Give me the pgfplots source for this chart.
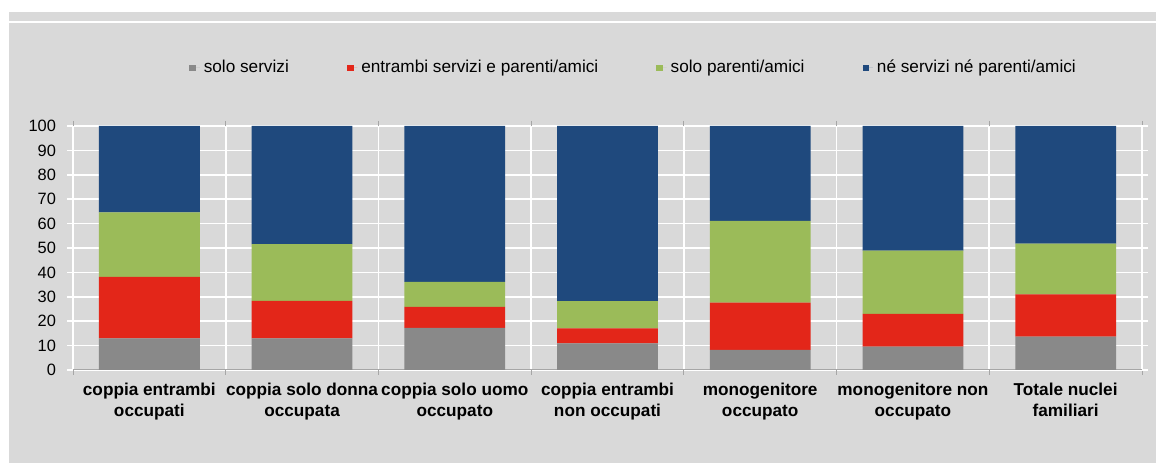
\documentclass[border=0pt]{standalone}
\usepackage{fontspec}
\setmainfont{Liberation Sans}
\usepackage{pgfplots}
\pgfplotsset{compat=1.18}
\definecolor{bgGray}{HTML}{D9D9D9}
\definecolor{serv}{HTML}{898989}
\definecolor{both}{HTML}{E32619}
\definecolor{fam}{HTML}{9BBB59}
\definecolor{neither}{HTML}{1F497D}

\begin{document}
\begin{tikzpicture}
\path[use as bounding box] (-36.5pt,-50pt) rectangle (541.5pt,185pt);
\fill[white] (-36.5pt,-50pt) rectangle (541.5pt,185pt);
\fill[bgGray] (-32pt,-46.5pt) rectangle (541.5pt,179pt);
\draw[white, line width=1pt] (-32pt,174pt) -- (541.5pt,174pt);
\begin{axis}[
    scale only axis,
    width=534.5pt,
    height=122pt,
    ybar stacked,
    bar width=0.66,
    xmin=-0.5, xmax=6.5,
    ymin=0, ymax=100,
    ytick={0,10,...,100},
    xtick={0,...,6},
    xticklabels={
      {coppia entrambi\\occupati},
      {coppia solo donna\\occupata},
      {coppia solo uomo\\occupato},
      {coppia entrambi\\non occupati},
      {monogenitore\\occupato},
      {monogenitore non\\occupato},
      {Totale nuclei\\familiari}},
    minor xtick={-0.5,0.5,...,6.5},
    xminorgrids=true,
    ymajorgrids=true,
    major grid style={white, line width=0.8pt},
    minor grid style={white, line width=0.8pt},
    tick align=outside,
    major x tick style={draw=none},
    minor x tick style={draw=gray!70, line width=0.5pt},
    minor tick length=2.5pt,
    y tick style={draw=white, line width=0.8pt},
    major tick length=3pt,
    axis line style={draw=none},
    /pgf/number format/assume math mode=true,
    yticklabel style={font=\fontsize{8.2}{9}\selectfont, xshift=-2pt},
    xticklabel style={font=\bfseries\fontsize{8.6}{10.5}\selectfont, align=center},
    legend columns=4,
    legend style={at={(0.1085,1.2377)}, anchor=west, draw=none, fill=none,
      inner sep=0pt, font=\fontsize{8.6}{9}\selectfont,
      /tikz/every even column/.append style={column sep=27pt}},
    legend cell align=left,
    legend image code/.code={\path (0pt,0pt) -- (5.2pt,0pt);
      \fill[#1] (0pt,-1.7pt) rectangle (3.4pt,1.7pt);},
]
\addplot[fill=serv, draw=none] coordinates {(0,13.0) (1,13.0) (2,17.3) (3,10.9) (4,8.2) (5,9.6) (6,13.7)};
\addplot[fill=both, draw=none] coordinates {(0,25.2) (1,15.3) (2,8.6) (3,6.2) (4,19.4) (5,13.4) (6,17.3)};
\addplot[fill=fam, draw=none] coordinates {(0,26.4) (1,23.3) (2,10.2) (3,11.1) (4,33.5) (5,25.9) (6,20.8)};
\addplot[fill=neither, draw=none] coordinates {(0,35.4) (1,48.4) (2,63.9) (3,71.8) (4,38.9) (5,51.1) (6,48.2)};
\legend{solo servizi, entrambi servizi e parenti/amici, solo parenti/amici, né servizi né parenti/amici}
\draw[gray!70, line width=0.6pt] (axis cs:-0.5,0) -- (axis cs:6.5,0);
\end{axis}
\end{tikzpicture}
\end{document}
